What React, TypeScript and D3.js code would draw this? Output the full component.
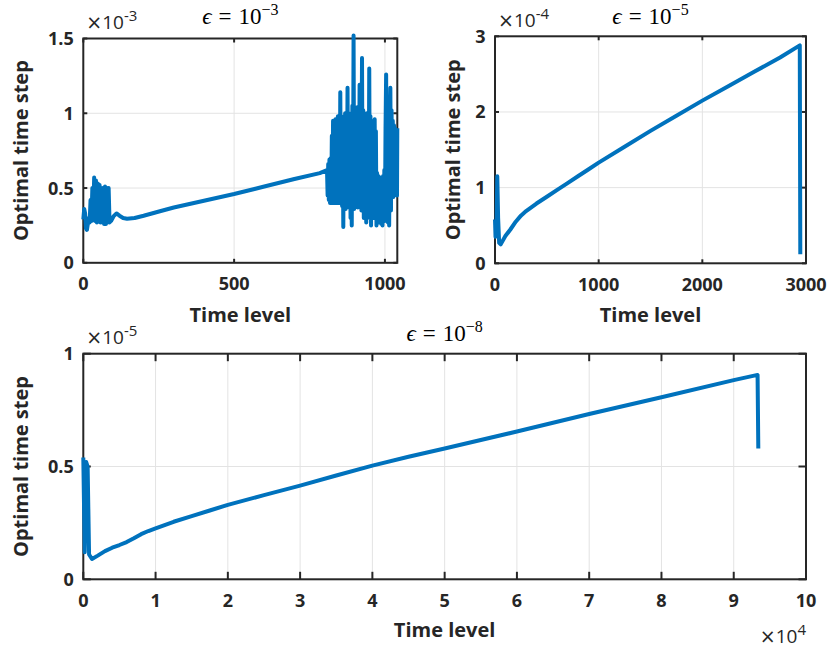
import React from 'react';
import * as d3 from 'd3';

// ---------- data (values in units of the axis exponent) ----------
// epsilon = 1e-3, y in 1e-3
const eps3Data: [number, number][] = [
  [0, 0.29], [3, 0.36], [6, 0.33], [9, 0.23], [12, 0.22], [15, 0.26], [18, 0.3], [21, 0.27],
  [24, 0.42], [27, 0.28], [30, 0.5], [33, 0.3], [36, 0.57], [39, 0.28], [42, 0.55], [45, 0.27],
  [48, 0.53], [51, 0.28], [54, 0.52], [57, 0.27], [60, 0.5], [63, 0.27], [66, 0.5], [69, 0.26],
  [72, 0.51], [75, 0.26], [78, 0.5], [81, 0.27], [84, 0.5], [87, 0.27], [92, 0.28], [100, 0.31],
  [110, 0.33], [120, 0.315], [132, 0.3], [145, 0.295], [170, 0.3], [200, 0.315], [254, 0.345],
  [300, 0.37], [400, 0.415], [500, 0.46], [600, 0.51], [700, 0.56], [784, 0.6], [808, 0.62],
  [810, 0.45], [812, 0.66], [814, 0.42], [816, 0.69], [818, 0.4], [820, 0.7], [822, 0.42],
  [824, 0.85], [826, 0.4], [828, 0.95], [830, 0.41], [832, 0.93], [834, 0.4], [836, 0.96],
  [838, 0.42], [840, 0.95], [842, 0.4], [844, 0.98], [846, 0.4], [848, 0.9], [850, 0.42],
  [852, 1.14], [854, 0.4], [856, 0.96], [858, 0.38], [860, 0.92], [862, 0.24], [864, 0.98],
  [866, 0.4], [868, 1.0], [870, 0.36], [872, 0.95], [874, 0.4], [876, 1.17], [878, 0.38],
  [880, 1.0], [882, 0.37], [884, 0.98], [886, 0.3], [888, 0.99], [890, 0.25], [892, 1.05],
  [894, 0.38], [896, 1.52], [898, 0.36], [900, 1.02], [902, 0.42], [904, 0.98], [906, 0.4],
  [908, 1.04], [910, 0.37], [912, 1.02], [914, 0.4], [916, 1.19], [918, 0.38], [920, 1.05],
  [922, 0.35], [924, 1.37], [926, 0.36], [928, 1.02], [930, 0.3], [932, 1.0], [934, 0.36],
  [936, 0.98], [938, 0.27], [940, 1.0], [942, 0.34], [944, 0.96], [946, 0.33], [948, 1.3],
  [950, 0.3], [952, 0.98], [954, 0.25], [956, 0.95], [958, 0.33], [960, 0.92], [962, 0.3],
  [964, 0.9], [966, 0.96], [968, 0.32], [970, 0.88], [972, 0.25], [974, 0.6], [976, 0.3],
  [978, 0.58], [980, 0.27], [982, 0.56], [984, 0.28], [986, 0.57], [988, 0.26], [990, 0.55],
  [992, 0.25], [994, 0.58], [996, 0.3], [998, 0.62], [1000, 0.28], [1002, 0.9], [1004, 1.26],
  [1006, 0.3], [1008, 0.95], [1010, 0.27], [1012, 0.88], [1014, 0.25], [1016, 0.92], [1018, 1.17],
  [1020, 0.35], [1022, 1.02], [1024, 0.45], [1026, 0.95], [1028, 0.44], [1030, 0.92], [1032, 0.47],
  [1034, 0.9], [1036, 0.48], [1038, 0.88], [1040, 0.45], [1041, 0.9],
];

// epsilon = 1e-5, y in 1e-4
const eps5Data: [number, number][] = [
  [0, 0.58], [5, 0.35], [15, 0.5], [22, 1.15], [30, 0.6], [40, 0.27], [55, 0.25], [100, 0.36],
  [150, 0.45], [200, 0.55], [250, 0.63], [300, 0.69], [350, 0.74], [400, 0.79], [500, 0.88],
  [600, 0.97], [700, 1.06], [800, 1.15], [900, 1.24], [1000, 1.33], [1250, 1.54], [1500, 1.75],
  [1750, 1.95], [2000, 2.15], [2250, 2.34], [2500, 2.53], [2750, 2.72], [2940, 2.88], [2945, 0.12],
];

// epsilon = 1e-8, x in 1e4, y in 1e-5
const eps8Data: [number, number][] = [
  [0, 0.54], [0.02, 0.12], [0.04, 0.52], [0.06, 0.5], [0.08, 0.11], [0.12, 0.09], [0.2, 0.105],
  [0.3, 0.125], [0.4, 0.14], [0.5, 0.152], [0.6, 0.165], [0.7, 0.182], [0.8, 0.2], [0.9, 0.214],
  [1, 0.226], [1.25, 0.255], [1.5, 0.28], [1.75, 0.305], [2, 0.33], [2.5, 0.373], [3, 0.415],
  [3.5, 0.46], [4, 0.504], [4.5, 0.543], [5, 0.58], [6, 0.655], [7, 0.733], [8, 0.807], [9, 0.883],
  [9.33, 0.906], [9.34, 0.58],
];

const p1XTicks = [0, 500, 1000];
const p1YTicks = [0, 0.5, 1, 1.5];
const p2XTicks = [0, 1000, 2000, 3000];
const p2YTicks = [0, 1, 2, 3];
const p3XTicks = [0, 1, 2, 3, 4, 5, 6, 7, 8, 9, 10];
const p3YTicks = [0, 0.5, 1];

const titles = ['-3', '-5', '-8'];
const yExponents = ['-3', '-4', '-5'];
const xExponent3 = '4';
const xLabel = 'Time level';
const yLabel = 'Optimal time step';

const LINE = '#0072BD';
const AX = '#262626';
const GRID = '#e3e3e3';
const SANS = "'Open Sans', sans-serif";
const SERIF = "'Liberation Serif', 'DejaVu Serif', serif";

type PanelProps = {
  left: number; top: number; right: number; bottom: number;
  xDomain: [number, number]; yDomain: [number, number];
  xTicks: number[]; yTicks: number[];
  data: [number, number][];
  tickLen: number;
  titleExp: string; titleY: number;
  yExp: string;
  xLabelY: number; yLabelX: number;
  xExp?: string;
};

function Exp({ x, y, exp, anchor }: { x: number; y: number; exp: string; anchor?: string }) {
  return (
    <text x={x} y={y} textAnchor={anchor || 'start'} fontFamily={SANS} fontSize={19} fill={AX}>
      <tspan fontFamily="'DejaVu Sans', sans-serif" fontSize={19}>×</tspan>10<tspan dy={-8} fontSize={15}>{exp}</tspan>
    </text>
  );
}

function Panel(p: PanelProps) {
  const x = d3.scaleLinear().domain(p.xDomain).range([p.left, p.right]);
  const y = d3.scaleLinear().domain(p.yDomain).range([p.bottom, p.top]);
  const line = d3.line<[number, number]>().x(d => x(d[0])).y(d => y(d[1]));
  const cx = (p.left + p.right) / 2;
  const cy = (p.top + p.bottom) / 2;
  const fmt = (v: number) => String(v);
  return (
    <g>
      {p.xTicks.map(t => (
        <line key={'gx' + t} x1={x(t)} x2={x(t)} y1={p.top} y2={p.bottom} stroke={GRID} strokeWidth={1} />
      ))}
      {p.yTicks.map(t => (
        <line key={'gy' + t} x1={p.left} x2={p.right} y1={y(t)} y2={y(t)} stroke={GRID} strokeWidth={1} />
      ))}
      {p.xTicks.map(t => (
        <g key={'tx' + t}>
          <line x1={x(t)} x2={x(t)} y1={p.bottom} y2={p.bottom - p.tickLen} stroke={AX} strokeWidth={2} />
          <line x1={x(t)} x2={x(t)} y1={p.top} y2={p.top + p.tickLen} stroke={AX} strokeWidth={2} />
          <text x={x(t)} y={p.bottom + 27.5} textAnchor="middle" fontFamily={SANS} fontWeight={700} fontSize={18} fill={AX}>{fmt(t)}</text>
        </g>
      ))}
      {p.yTicks.map(t => (
        <g key={'ty' + t}>
          <line x1={p.left} x2={p.left + p.tickLen} y1={y(t)} y2={y(t)} stroke={AX} strokeWidth={2} />
          <line x1={p.right} x2={p.right - p.tickLen} y1={y(t)} y2={y(t)} stroke={AX} strokeWidth={2} />
          <text x={p.left - 9.5} y={y(t)} dy="0.36em" textAnchor="end" fontFamily={SANS} fontWeight={700} fontSize={18} fill={AX}>{fmt(t)}</text>
        </g>
      ))}
      <rect x={p.left} y={p.top} width={p.right - p.left} height={p.bottom - p.top} fill="none" stroke={AX} strokeWidth={2} />
      <path d={line(p.data) || ''} fill="none" stroke={LINE} strokeWidth={4} strokeLinejoin="round" strokeLinecap="butt" />
      <text x={cx} y={p.titleY} textAnchor="middle" fontFamily={SERIF} fontSize={23} fill="#000">
        <tspan fontStyle="italic">ϵ</tspan>
        <tspan dx={7}>=</tspan>
        <tspan dx={7}>10</tspan>
        <tspan dy={-9} fontSize={16}>{p.titleExp.replace('-', '−')}</tspan>
      </text>
      <Exp x={p.left + 3} y={p.top - 9.5} exp={p.yExp} />
      {p.xExp && <Exp x={p.right} y={643} exp={p.xExp} anchor="end" />}
      <text x={cx} y={p.xLabelY} textAnchor="middle" fontFamily={SANS} fontWeight={700} fontSize={20} fill={AX}>{xLabel}</text>
      <text transform={`translate(${p.yLabelX},${cy}) rotate(-90)`} textAnchor="middle" fontFamily={SANS} fontWeight={700} fontSize={20} fill={AX}>{yLabel}</text>
    </g>
  );
}

export default function App() {
  return (
    <svg width={830} height={651} style={{ position: 'absolute', left: 0, top: 0, background: '#fff' }}>
      <rect x={0} y={0} width={830} height={651} fill="#fff" />
      <Panel left={83.3} top={38.5} right={397.3} bottom={262.8} xDomain={[0, 1041]} yDomain={[0, 1.5]}
        xTicks={p1XTicks} yTicks={p1YTicks} data={eps3Data} tickLen={4}
        titleExp={titles[0]} titleY={24} yExp={yExponents[0]} xLabelY={322} yLabelX={28} />
      <Panel left={495} top={36.3} right={806} bottom={263.3} xDomain={[0, 3000]} yDomain={[0, 3]}
        xTicks={p2XTicks} yTicks={p2YTicks} data={eps5Data} tickLen={4}
        titleExp={titles[1]} titleY={24} yExp={yExponents[1]} xLabelY={322} yLabelX={459.5} />
      <Panel left={83.3} top={353.7} right={806} bottom={579.3} xDomain={[0, 10]} yDomain={[0, 1]}
        xTicks={p3XTicks} yTicks={p3YTicks} data={eps8Data} tickLen={7.5}
        titleExp={titles[2]} titleY={341} yExp={yExponents[2]} xLabelY={637} yLabelX={28} xExp={xExponent3} />
    </svg>
  );
}
